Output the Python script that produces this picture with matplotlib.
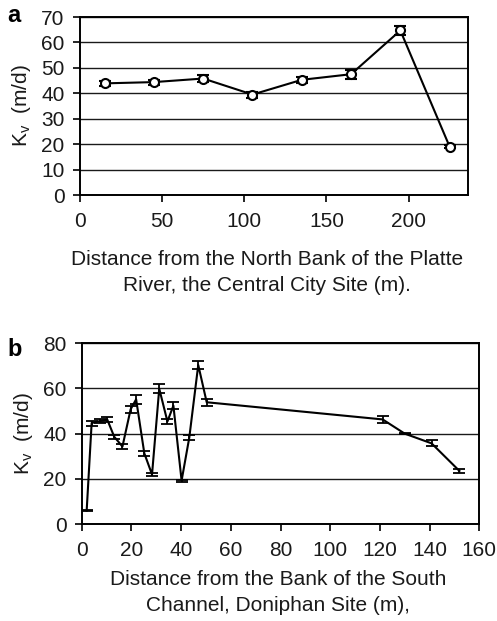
import matplotlib
matplotlib.use('Agg')
from matplotlib import pyplot as plt

plt.rcParams['font.family'] = ['Liberation Sans', 'DejaVu Sans']
plt.rcParams['mathtext.default'] = 'regular'

# Panel a - Central City Site
a_dist = [15, 45, 75, 105, 135, 165, 195, 225]
a_kv = [43.9, 44.4, 45.8, 39.5, 45.3, 47.5, 64.7, 19.0]
a_err = [1.0, 1.0, 1.5, 1.2, 1.2, 1.8, 1.8, 0.5]

# Panel b - Doniphan Site
b_dist = [2, 4, 7.4, 10.3, 13.1, 16.4, 19.7, 21.9, 25.2, 28.3, 31.2,
          34.5, 36.9, 40.2, 43.3, 46.9, 50.3, 121.1, 130, 140.8, 152]
b_kv = [5.9, 44.7, 45.6, 46.2, 38.6, 34.3, 50.8, 55.2, 31.3, 21.9, 59.9,
        45.4, 52.4, 19.2, 38.3, 70.4, 53.9, 46.3, 40.0, 35.7, 23.5]
b_err = [0.3, 1.1, 0.9, 1.0, 1.0, 1.1, 1.6, 2.0, 1.1, 0.6, 1.9,
         1.3, 1.7, 0.4, 1.0, 1.85, 1.5, 1.5, 0.1, 1.3, 0.7]

W, H = 497, 621
fs = 15


def px_axes(fig, left, top, right, bottom):
    return fig.add_axes([left / W, 1 - bottom / H, (right - left) / W, (bottom - top) / H])


def style_axes(ax, xlim, xticks, ylim, yticks):
    ax.set_xlim(xlim)
    ax.set_ylim(ylim)
    ax.set_xticks(xticks)
    ax.set_yticks(yticks)
    ax.yaxis.grid(True, color='0.1', linewidth=1.0)
    ax.set_axisbelow(True)
    for s in ax.spines.values():
        s.set_linewidth(1.4)
        s.set_color('k')
    ax.tick_params(direction='out', length=5, width=1.2, labelsize=fs, labelcolor='0.1')
    ax.tick_params(axis='x', pad=7)
    ax.tick_params(axis='y', pad=6)


fig = plt.figure(figsize=(W / 100, H / 100), dpi=100)

# Panel a
ax1 = px_axes(fig, 80, 17, 467.7, 195)
ax1.errorbar(a_dist, a_kv, yerr=a_err, color='k', linewidth=1.5, marker='o',
             markersize=6.5, markerfacecolor='white', markeredgecolor='k',
             markeredgewidth=1.5, capsize=4, capthick=1.3, elinewidth=1.3)
style_axes(ax1, (0, 236), [0, 50, 100, 150, 200], (0, 70), range(0, 71, 10))
ax1.set_ylabel('K$_{v}$  (m/d)', fontsize=fs, labelpad=6, color='0.1')
fig.text(267 / W, 1 - 250 / H, "Distance from the North Bank of the Platte\nRiver, the Central City Site (m).",
         ha='center', va='top', fontsize=fs, linespacing=1.45, color='0.1')
fig.text(7 / W, 1 - 22 / H, 'a', fontsize=17, weight='bold', va='baseline')

# Panel b
ax2 = px_axes(fig, 81.7, 343.3, 479.3, 524)
ax2.errorbar(b_dist, b_kv, yerr=b_err, color='k', linewidth=1.5,
             capsize=4.5, capthick=1.3, elinewidth=1.3)
style_axes(ax2, (0, 160), range(0, 161, 20), (0, 80), range(0, 81, 20))
ax2.set_ylabel('K$_{v}$  (m/d)', fontsize=fs, labelpad=6, color='0.1')
fig.text(278 / W, 1 - 570 / H, "Distance from the Bank of the South\nChannel, Doniphan Site (m),",
         ha='center', va='top', fontsize=fs, linespacing=1.45, color='0.1')
fig.text(7 / W, 1 - 356 / H, 'b', fontsize=17, weight='bold', va='baseline')

plt.savefig('out.png', dpi=100)
plt.close()
